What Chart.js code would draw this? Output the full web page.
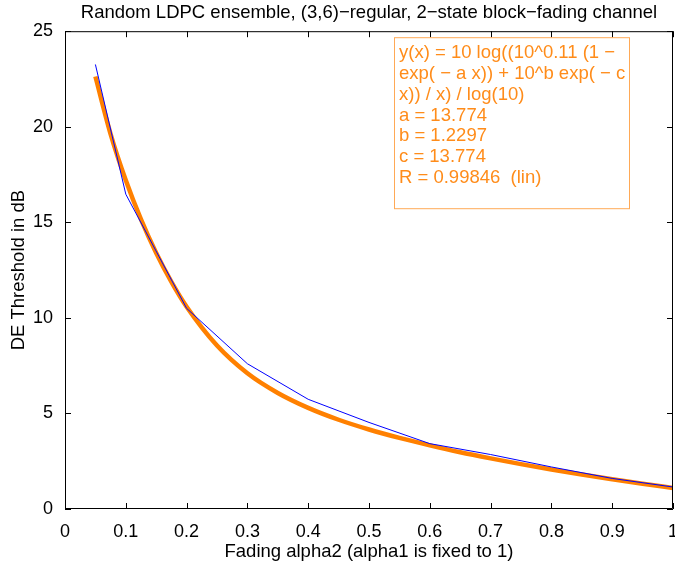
<!DOCTYPE html>
<html>
<head>
<meta charset="utf-8">
<script src="https://cdn.jsdelivr.net/npm/chart.js@4"></script>
<style>
  html, body { margin: 0; padding: 0; background: #fff; }
  #wrap { width: 675px; height: 563px; }
</style>
</head>
<body>
<div id="wrap"><canvas id="chart" width="675" height="563"></canvas></div>
<script>
// measured DE thresholds (blue)
const alpha2 = [0.05, 0.1, 0.2, 0.3, 0.4, 0.5, 0.6, 0.7, 0.8, 0.9, 1.0];
const thresholdDB = [23.26, 16.47, 10.5, 7.6, 5.74, 4.53, 3.42, 2.85, 2.2, 1.6, 1.15];

// fitted curve (orange)
const fitX = [0.05, 0.075, 0.1, 0.125, 0.15, 0.175, 0.2, 0.25, 0.3, 0.35, 0.4, 0.45, 0.5, 0.55, 0.6, 0.65, 0.7, 0.75, 0.8, 0.85, 0.9, 0.95, 1.0];
const fitY = [22.63, 19.62, 17.2, 15.15, 13.39, 11.88, 10.58, 8.55, 7.1, 6.07, 5.29, 4.67, 4.16, 3.72, 3.33, 2.97, 2.65, 2.35, 2.07, 1.81, 1.56, 1.32, 1.1];

const xTicks = [0, 0.1, 0.2, 0.3, 0.4, 0.5, 0.6, 0.7, 0.8, 0.9, 1];
const yTicks = [0, 5, 10, 15, 20, 25];

const fitText = [
  "y(x) = 10 log((10^0.11 (1 \u2212",
  "exp( \u2212 a x)) + 10^b exp( \u2212 c",
  "x)) / x) / log(10)",
  "a = 13.774",
  "b = 1.2297",
  "c = 13.774",
  "R = 0.99846  (lin)"
];

const FONT = "'Liberation Sans', Arial, Helvetica, sans-serif";

function toPoints(xs, ys) {
  return xs.map((x, i) => ({ x: x, y: ys[i] }));
}

// matlab style box with inward ticks + fit text box
const boxPlugin = {
  id: 'matlabBox',
  afterDraw(chart) {
    const ctx = chart.ctx;
    const a = chart.chartArea;
    const xs = chart.scales.x;
    const ys = chart.scales.y;
    ctx.save();
    ctx.strokeStyle = '#000';
    ctx.lineWidth = 1;
    ctx.beginPath();
    ctx.rect(a.left + 0.5, a.top + 0.5, a.right - a.left - 1, a.bottom - a.top - 1);
    const tl = 6;
    xTicks.forEach(v => {
      const px = Math.round(xs.getPixelForValue(v)) + 0.5;
      ctx.moveTo(px, a.bottom);
      ctx.lineTo(px, a.bottom - tl);
      ctx.moveTo(px, a.top);
      ctx.lineTo(px, a.top + tl);
    });
    yTicks.forEach(v => {
      const py = Math.round(ys.getPixelForValue(v)) + 0.5;
      ctx.moveTo(a.left, py);
      ctx.lineTo(a.left + tl, py);
      ctx.moveTo(a.right, py);
      ctx.lineTo(a.right - tl, py);
    });
    ctx.stroke();

    // text box with fit results
    const bx = a.left + 329, by = a.top + 6, bw = 235, bh = 171;
    ctx.strokeStyle = 'rgba(255,140,30,0.75)';
    ctx.strokeRect(bx + 0.5, by + 0.5, bw, bh);
    ctx.fillStyle = '#ff8c1a';
    ctx.font = '18.5px ' + FONT;
    ctx.textBaseline = 'middle';
    ctx.textAlign = 'left';
    fitText.forEach((line, i) => {
      ctx.fillText(line, bx + 5, by + 16 + i * 20.8);
    });
    ctx.restore();
  }
};

new Chart(document.getElementById('chart'), {
  type: 'scatter',
  data: {
    datasets: [
      {
        label: 'DE threshold',
        data: toPoints(alpha2, thresholdDB),
        showLine: true,
        borderColor: '#0000ff',
        borderWidth: 1,
        pointRadius: 0,
        tension: 0
      },
      {
        label: 'fit',
        data: toPoints(fitX, fitY),
        showLine: true,
        borderColor: '#ff8000',
        borderWidth: 4.5,
        pointRadius: 0,
        cubicInterpolationMode: 'monotone'
      }
    ]
  },
  options: {
    responsive: false,
    animation: false,
    layout: { padding: { left: 0, right: 2, top: 0, bottom: 0 } },
    plugins: {
      legend: { display: false },
      tooltip: { enabled: false },
      title: {
        display: true,
        fullSize: false,
        text: 'Random LDPC ensemble, (3,6)\u2212regular, 2\u2212state block\u2212fading channel',
        color: '#000',
        font: { family: FONT, size: 18.5, weight: 'normal' },
        padding: { top: 2, bottom: 7 }
      }
    },
    scales: {
      x: {
        type: 'linear',
        min: 0,
        max: 1,
        grid: { display: false },
        border: { display: false },
        afterBuildTicks: s => { s.ticks = xTicks.map(v => ({ value: v })); },
        afterFit: s => { s.height = 54; s.paddingLeft = 0; s.paddingRight = 0; },
        ticks: {
          color: '#000',
          font: { family: FONT, size: 18 },
          padding: 4,
          maxRotation: 0,
          callback: v => String(v)
        },
        title: {
          display: true,
          text: 'Fading alpha2 (alpha1 is fixed to 1)',
          color: '#000',
          font: { family: FONT, size: 18.5 },
          padding: { top: 0, bottom: 0 }
        }
      },
      y: {
        type: 'linear',
        min: 0,
        max: 25,
        grid: { display: false },
        border: { display: false },
        afterBuildTicks: s => { s.ticks = yTicks.map(v => ({ value: v })); },
        afterFit: s => { s.width = 65; s.paddingTop = 0; s.paddingBottom = 0; },
        ticks: {
          color: '#000',
          font: { family: FONT, size: 18 },
          padding: 4
        },
        title: {
          display: true,
          text: 'DE Threshold in dB',
          color: '#000',
          font: { family: FONT, size: 18.5 },
          padding: { top: 8, bottom: 4 }
        }
      }
    }
  },
  plugins: [boxPlugin]
});
</script>
</body>
</html>
